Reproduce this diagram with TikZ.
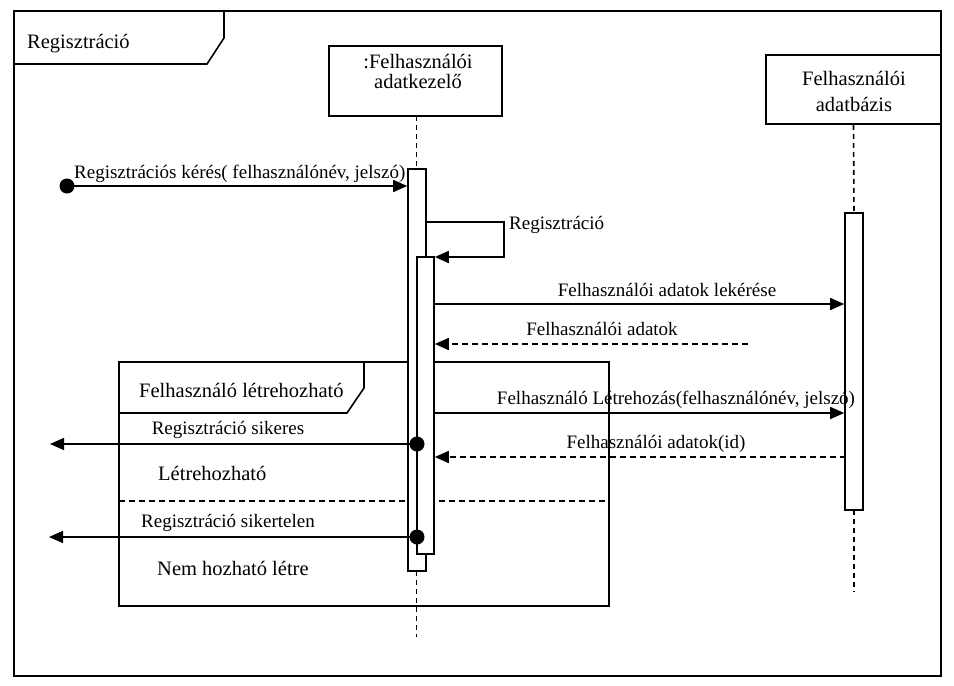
\documentclass[tikz,border=0pt]{standalone}
\usepackage{fontspec}
\setmainfont{Liberation Serif}
\usetikzlibrary{arrows.meta}
\begin{document}
\begin{tikzpicture}[x=1pt,y=-1pt,
  line/.style={line width=1.6pt},
  msg/.style={line width=1.6pt,-{Triangle[length=14pt,width=12pt]}},
  ret/.style={msg,dash pattern=on 6pt off 4pt},
  lifeln/.style={line width=1.6pt,dash pattern=on 5pt off 4pt},
  bar/.style={draw,line width=1.6pt,fill=white,inner sep=0pt},
  headbox/.style={draw,line width=1.6pt,fill=white,inner sep=0pt},
  lbl/.style={font=\fontsize{19}{23}\selectfont,anchor=base,inner sep=0pt},
  big/.style={font=\fontsize{20.5}{25}\selectfont,anchor=base west,inner sep=0pt},
  dot/.style={circle,fill=black,inner sep=0pt,minimum size=15pt}
]
\useasboundingbox (0,0) rectangle (954,686);
% outer frame
\draw[line] (14,11) rectangle (941,676);
\draw[line] (14,64) -- (207,64) -- (224,38) -- (224,11);
\node[big] (title) at (27,48) {Regisztráció};
% alt fragment
\draw[line] (119,362) rectangle (609,606);
\draw[line] (119,413) -- (347,413) -- (364,388) -- (364,362);
\node[big] (altlbl) at (139,397) {Felhasználó létrehozható};
\draw[line,dash pattern=on 6pt off 4pt] (119,501) -- (609,501);
\node[big] (g1) at (158,480) {Létrehozható};
\node[big] (g2) at (157,575) {Nem hozható létre};
% lifeline heads
\node[headbox,minimum width=173pt,minimum height=70pt] (h1) at (415.5,81) {};
\node[big,anchor=base] (h1a) at (418,68) {:Felhasználói};
\node[big,anchor=base] (h1b) at (418,88) {adatkezelő};
\node[headbox,minimum width=175pt,minimum height=69pt] (h2) at (853.5,89.5) {};
\node[big,anchor=base] (h2a) at (854,85.5) {Felhasználói};
\node[big,anchor=base] (h2b) at (854,111.5) {adatbázis};
% lifelines
\coordinate (e1) at (416.5,637);
\coordinate (e2) at (854,592);
\draw[lifeln] (416.5,116) -- (416.5,169);
\draw[lifeln] (416.5,571) -- (e1);
\draw[lifeln] (h2.south) -- (854,213);
\draw[lifeln] (854,510) -- (e2);
% activation bars
\node[bar,minimum width=18pt,minimum height=402pt] (barA) at (417,370) {};
\node[bar,minimum width=17pt,minimum height=297pt] (barB) at (425.5,405.5) {};
\node[bar,minimum width=18pt,minimum height=297pt] (barC) at (854,361.5) {};
% message 1
\node[dot] (start) at (67,186) {};
\draw[msg] (start.center) -- (barA.west |- start);
\node[lbl,anchor=base west] (l1) at (74,178) {Regisztrációs kérés( felhasználónév, jelszó)};
% self message
\coordinate (s1) at (barA.east |- 0,222);
\coordinate (s2) at (504,222);
\coordinate (s3) at (504,257);
\draw[msg] (s1) -- (s2) -- (s3) -- (barB.east |- s3);
\node[lbl,anchor=base west] (l2) at (509,229) {Regisztráció};
% message lekérése
\coordinate (m3) at (434,304);
\draw[msg] (m3) -- (barC.west |- m3);
\node[lbl] (l3) at (667,296) {Felhasználói adatok lekérése};
% return adatok
\coordinate (m4) at (748,344);
\draw[ret] (m4) -- (barB.east |- m4);
\node[lbl] (l4) at (602,335) {Felhasználói adatok};
% létrehozás
\coordinate (m5) at (434,413);
\draw[msg] (m5) -- (barC.west |- m5);
\node[lbl] (l5) at (676,404) {Felhasználó Létrehozás(felhasználónév, jelszó)};
% return id
\coordinate (m6) at (846,457);
\draw[ret] (m6) -- (barB.east |- m6);
\node[lbl] (l6) at (656,448) {Felhasználói adatok(id)};
% sikeres
\node[dot] (d1) at (417,444) {};
\coordinate (t1) at (50,444);
\draw[msg] (d1.center) -- (t1);
\node[lbl] (l7) at (228,434) {Regisztráció sikeres};
% sikertelen
\node[dot] (d2) at (417,537) {};
\coordinate (t2) at (49,537);
\draw[msg] (d2.center) -- (t2);
\node[lbl] (l8) at (228,527) {Regisztráció sikertelen};
\end{tikzpicture}
\end{document}
